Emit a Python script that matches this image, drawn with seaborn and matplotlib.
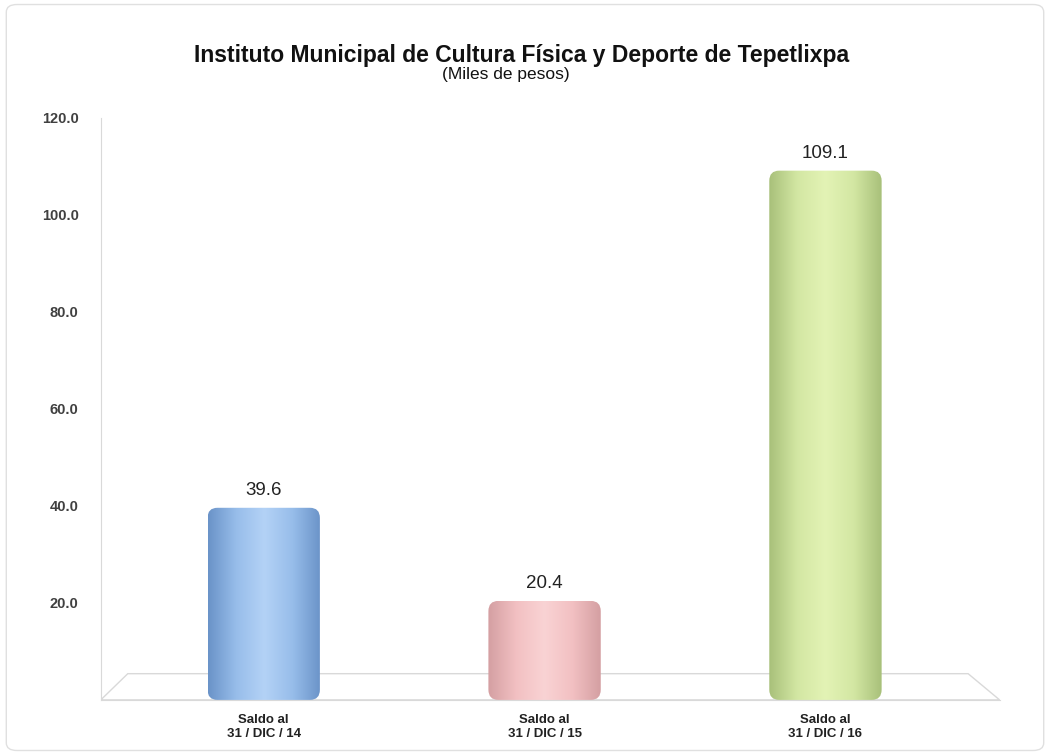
import numpy as np
import pandas as pd
import seaborn as sns
import matplotlib

matplotlib.use('Agg')
import matplotlib.pyplot as plt
from matplotlib.patches import FancyBboxPatch, Polygon

# datos
categorias = ["Saldo al\n31 / DIC / 14", "Saldo al\n31 / DIC / 15", "Saldo al\n31 / DIC / 16"]
saldos = [39.6, 20.4, 109.1]
colores = ["#97bdea", "#f2c0c2", "#d3e7a3"]
colores_oscuros = ["#6a93c8", "#d49fa2", "#a8c07a"]
colores_claros = ["#b3d2f6", "#f9d3d4", "#e3f3b5"]
ticks_y = [20, 40, 60, 80, 100, 120]

df = pd.DataFrame({"cat": categorias, "saldo": saldos})

sns.set_style("white")
plt.rcParams['font.family'] = ['Liberation Sans', 'DejaVu Sans']

fig = plt.figure(figsize=(10.5, 7.55), dpi=100)
ax = fig.add_axes([0.096, 0.073, 0.856, 0.771])

sns.barplot(data=df, x="cat", y="saldo", hue="cat", palette=colores, width=0.40,
            legend=False, ax=ax, edgecolor="none")

ax.set_xlim(-0.58, 2.62)
ax.set_ylim(0, 120)

# degradado tipo cilindro
for bar, osc, med, cla in zip(ax.patches, colores_oscuros, colores, colores_claros):
    x0, y0 = bar.get_x(), bar.get_y()
    w, h = bar.get_width(), bar.get_height()
    cmap = matplotlib.colors.LinearSegmentedColormap.from_list("c", [osc, med, cla, med, osc])
    grad = np.linspace(0, 1, 256).reshape(1, -1)
    im = ax.imshow(grad, cmap=cmap, aspect="auto", extent=[x0, x0 + w, y0, y0 + h], zorder=3)
    clip = FancyBboxPatch((x0, y0), w, h, boxstyle="round,pad=0,rounding_size=0.035",
                          mutation_aspect=60, transform=ax.transData, facecolor="none", edgecolor="none")
    ax.add_patch(clip)
    im.set_clip_path(clip)
    bar.set_visible(False)
    ax.text(x0 + w / 2, y0 + h + 1.8, f"{h:.1f}", ha="center", va="bottom", fontsize=13.5, color="#222222")

# piso
piso = Polygon([[0.0, 0.0], [1.0, 0.0], [0.965, 0.045], [0.03, 0.045]], closed=True,
               transform=ax.transAxes, facecolor="none", edgecolor="#d9d9d9", lw=1, zorder=1)
ax.add_patch(piso)

ax.set_yticks(ticks_y)
ax.set_yticklabels([f"{t:.1f}" for t in ticks_y], fontsize=10.5, color="#404040", fontweight="semibold")
ax.tick_params(axis="y", length=4, color="#d9d9d9", pad=12)
ax.tick_params(axis="x", length=0, pad=10)
for lbl in ax.get_xticklabels():
    lbl.set_fontsize(9.5)
    lbl.set_fontweight("bold")
    lbl.set_color("#222222")

ax.set_xlabel("")
ax.set_ylabel("")
sns.despine(ax=ax, top=True, right=True)
ax.spines["left"].set_color("#d9d9d9")
ax.spines["bottom"].set_color("#d9d9d9")

fig.text(0.497, 0.927, "Instituto Municipal de Cultura Física y Deporte de Tepetlixpa",
         ha="center", va="center", fontsize=16.5, fontweight="bold", color="#111111")
fig.text(0.482, 0.901, "(Miles de pesos)", ha="center", va="center", fontsize=12.5, color="#111111")

marco = FancyBboxPatch((0.006, 0.006), 0.988, 0.988, boxstyle="round,pad=0,rounding_size=0.01",
                       transform=fig.transFigure, facecolor="none", edgecolor="#e0e0e0", lw=1)
fig.patches.append(marco)

fig.savefig("out.png", dpi=100)
